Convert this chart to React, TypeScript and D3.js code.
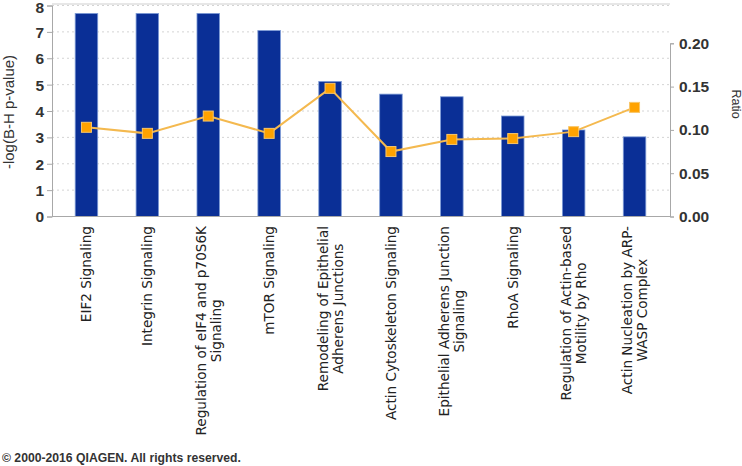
import React, { useEffect, useRef } from "react";
import * as d3 from "d3";

const categories = [
  "EIF2 Signaling",
  "Integrin Signaling",
  "Regulation of eIF4 and p70S6K Signaling",
  "mTOR Signaling",
  "Remodeling of Epithelial Adherens Junctions",
  "Actin Cytoskeleton Signaling",
  "Epithelial Adherens Junction Signaling",
  "RhoA Signaling",
  "Regulation of Actin-based Motility by Rho",
  "Actin Nucleation by ARP-WASP Complex",
];
const categoryLines = [
  ["EIF2 Signaling"],
  ["Integrin Signaling"],
  ["Regulation of eIF4 and p70S6K", "Signaling"],
  ["mTOR Signaling"],
  ["Remodeling of Epithelial", "Adherens Junctions"],
  ["Actin Cytoskeleton Signaling"],
  ["Epithelial Adherens Junction", "Signaling"],
  ["RhoA Signaling"],
  ["Regulation of Actin-based", "Motility by Rho"],
  ["Actin Nucleation by ARP-", "WASP Complex"],
];
const logPValues = [7.7, 7.7, 7.7, 7.05, 5.12, 4.64, 4.54, 3.81, 3.28, 3.02];
const ratioValues = [0.103, 0.096, 0.116, 0.096, 0.148, 0.075, 0.089, 0.090, 0.098, 0.126];
const leftTicks = [0, 1, 2, 3, 4, 5, 6, 7, 8];
const rightTicks = [0, 0.05, 0.1, 0.15, 0.2];
const leftTitle = "-log(B-H p-value)";
const rightTitle = "Ratio";
const footer = "\u00a9 2000-2016 QIAGEN. All rights reserved.";

export default function App() {
  const ref = useRef<SVGSVGElement>(null);

  useEffect(() => {
    const svg = d3.select(ref.current);
    svg.selectAll("*").remove();

    const left = 52, right = 670, top = 4, bottom = 216.5;
    const x = d3.scaleBand<string>().domain(categories).range([56, 665]).paddingInner(0.63).paddingOuter(0.315);
    const yL = d3.scaleLinear().domain([0, 8]).range([bottom, 5.5]);
    const yR = d3.scaleLinear().domain([0, 0.2]).range([bottom, 43.3]);

    // gridlines
    svg.append("g").selectAll("line").data(leftTicks.filter(t => t > 0)).join("line")
      .attr("x1", left).attr("x2", right)
      .attr("y1", d => yL(d)).attr("y2", d => yL(d))
      .attr("stroke", "#d4d4d4").attr("stroke-width", 1).attr("stroke-dasharray", "2,3");
    svg.append("line").attr("x1", left).attr("x2", right).attr("y1", top).attr("y2", top)
      .attr("stroke", "#cfcfcf");

    // bars
    svg.append("g").selectAll("rect").data(categories).join("rect")
      .attr("x", d => x(d)!)
      .attr("width", x.bandwidth())
      .attr("y", (d, i) => yL(logPValues[i]))
      .attr("height", (d, i) => bottom - yL(logPValues[i]))
      .attr("fill", "#0a2f96")
      .attr("stroke", "#7d9bd6").attr("stroke-width", 0.8);

    // axes
    const axL = svg.append("g").attr("transform", `translate(${left},0)`)
      .call(d3.axisLeft(yL).tickValues(leftTicks).tickFormat(d3.format("d")).tickSize(5).tickPadding(3));
    const axR = svg.append("g").attr("transform", `translate(${right},0)`)
      .call(d3.axisRight(yR).tickValues(rightTicks).tickFormat(d3.format(".2f")).tickSize(4).tickPadding(5));
    [axL, axR].forEach(a => {
      a.select(".domain").attr("stroke", "#a8a8a8");
      a.selectAll(".tick line").attr("stroke", "#a8a8a8");
      a.selectAll(".tick text").attr("font-family", "Liberation Sans, Arial, sans-serif")
        .attr("font-size", 15.5).attr("font-weight", "bold").attr("fill", "#333");
    });
    axL.selectAll(".tick text").attr("dy", "0.35em");
    axL.selectAll<SVGTextElement, number>(".tick text").filter(d => d === 8).attr("dy", "0.45em");
    svg.append("line").attr("x1", left).attr("x2", right).attr("y1", bottom).attr("y2", bottom)
      .attr("stroke", "#a8a8a8");

    // line + squares
    const line = d3.line<number>().x((d, i) => x(categories[i])! + x.bandwidth() / 2).y(d => yR(d));
    svg.append("path").datum(ratioValues).attr("d", line)
      .attr("fill", "none").attr("stroke", "#f4b94f").attr("stroke-width", 2);
    svg.append("g").selectAll("rect").data(ratioValues).join("rect")
      .attr("x", (d, i) => x(categories[i])! + x.bandwidth() / 2 - 5)
      .attr("y", d => yR(d) - 5)
      .attr("width", 10).attr("height", 10)
      .attr("fill", "#ffa200").attr("stroke", "#f8c66a").attr("stroke-width", 1);

    // category labels
    const labelTop = 226;
    const lh = 15;
    categories.forEach((c, i) => {
      const lines = categoryLines[i];
      const cx = x(c)! + x.bandwidth() / 2;
      const g = svg.append("g").attr("transform", `translate(${cx},${labelTop}) rotate(-90)`);
      const texts = lines.map((l, j) =>
        g.append("text").text(l)
          .attr("font-family", "DejaVu Sans, Verdana, sans-serif").attr("font-size", 13.6)
          .attr("fill", "#222").attr("text-anchor", "middle")
          .attr("dominant-baseline", "central")
          .attr("y", (j - (lines.length - 1) / 2) * lh)
      );
      const maxW = d3.max(texts, t => (t.node() as SVGTextElement).getComputedTextLength()) || 0;
      texts.forEach(t => t.attr("x", -maxW / 2));
    });

    // axis titles
    svg.append("text").text(leftTitle)
      .attr("transform", `translate(14,112) rotate(-90)`)
      .attr("text-anchor", "middle")
      .attr("font-family", "Liberation Sans, Arial, sans-serif").attr("font-size", 15).attr("fill", "#333");
    svg.append("text").text(rightTitle)
      .attr("transform", `translate(732,104) rotate(90)`)
      .attr("text-anchor", "middle")
      .attr("font-family", "Liberation Sans, Arial, sans-serif").attr("font-size", 12.5).attr("fill", "#333");

    svg.append("text").text(footer)
      .attr("x", 2).attr("y", 462)
      .attr("font-family", "Liberation Sans, Arial, sans-serif").attr("font-size", 12.2)
      .attr("font-weight", "bold").attr("fill", "#333");
  }, []);

  return (
    <svg ref={ref} width={742} height={466}
      style={{ position: "absolute", left: 0, top: 0, background: "#fff" }} />
  );
}
